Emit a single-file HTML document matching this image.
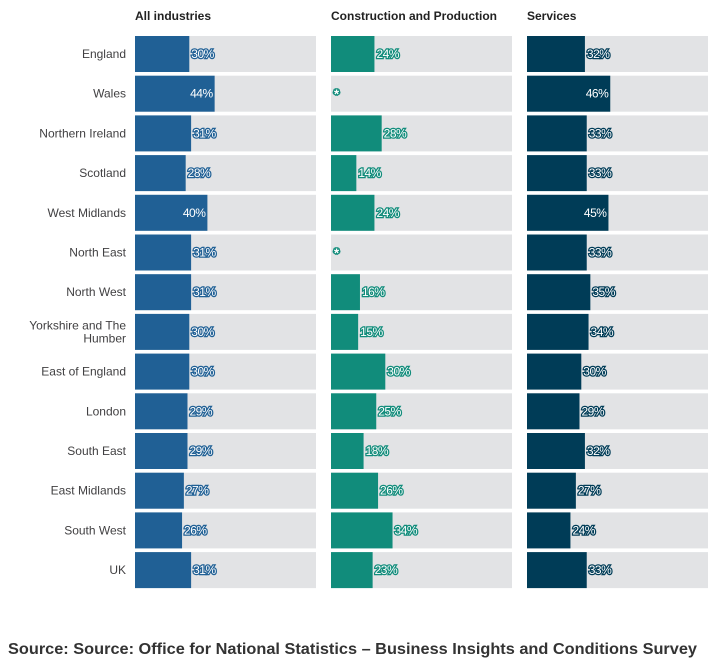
<!DOCTYPE html>
<html><head><meta charset="utf-8"><style>
body{margin:0;background:#fff;font-family:"Liberation Sans",sans-serif;}
svg text{font-family:"Liberation Sans",sans-serif;}
</style></head><body>
<svg id="c" width="723" height="660" xmlns="http://www.w3.org/2000/svg"></svg>
<script>
const regions=["England","Wales","Northern Ireland","Scotland","West Midlands","North East","North West","Yorkshire and The Humber","East of England","London","South East","East Midlands","South West","UK"];
const panels=["All industries","Construction and Production","Services"];
const allInd=[30,44,31,28,40,31,31,30,30,29,29,27,26,31];
const conProd=[24,null,28,14,24,null,16,15,30,25,18,26,34,23];
const services=[32,46,33,33,45,33,35,34,30,29,32,27,24,33];
const series=[allInd,conProd,services];
const colors=["#206095","#118c7b","#003c57"];
const svg=document.getElementById('c');
const NS="http://www.w3.org/2000/svg";
const panelX=[135,331,527],panelW=181,top0=36,pitch=39.7,barH=36;
const x=(p,v)=>panelX[p]+v/100*panelW;
const y=i=>top0+i*pitch;
function mk(t,a){const e=document.createElementNS(NS,t);for(const k in a)e.setAttribute(k,a[k]);svg.appendChild(e);return e;}
regions.forEach((r,i)=>{
  const parts=r==="Yorkshire and The Humber"?["Yorkshire and The","Humber"]:[r];
  const t=mk('text',{x:126,y:y(i)+barH/2+4-(parts.length-1)*6.5,'text-anchor':'end','font-size':12,fill:'#414042'});
  
  
  parts.forEach((p,k)=>{const s=document.createElementNS(NS,'tspan');s.setAttribute('x',126);if(k)s.setAttribute('dy',13);s.textContent=p;t.appendChild(s);});
});
panels.forEach((p,pi)=>{
  const t=mk('text',{x:panelX[pi],y:20,'font-size':12,'font-weight':'bold',fill:'#222'});
  
  
  t.textContent=p;
  series[pi].forEach((v,i)=>{
    const bg=mk('rect',{x:panelX[pi],y:y(i),width:panelW,height:barH,fill:'#e2e3e5'});
    
    
    if(v===null){
      const s=mk('text',{x:panelX[pi]+3,y:y(i)+barH/2+5,'font-size':13,'font-weight':'bold',fill:'#fff',stroke:colors[pi],'stroke-width':2.5,'paint-order':'stroke'});
      
      
      s.textContent='*';return;}
    const b=mk('rect',{x:panelX[pi],y:y(i),width:x(pi,v)-panelX[pi],height:barH,fill:colors[pi]});
    
    
    const inside=v>=40;
    const l=mk('text',{x:inside?x(pi,v)-2:x(pi,v)+2,y:y(i)+barH/2+4,'text-anchor':inside?'end':'start','font-size':12,fill:'#fff',stroke:colors[pi],'stroke-width':2.5,'paint-order':'stroke','letter-spacing':-0.5});
    
    
    l.textContent=v+'%';
  });
});
const src=mk('text',{x:8,y:654,'font-size':16,'font-weight':'bold',fill:'#333',textLength:689,lengthAdjust:'spacingAndGlyphs'});


src.textContent="Source: Source: Office for National Statistics – Business Insights and Conditions Survey";
</script>
</body></html>
